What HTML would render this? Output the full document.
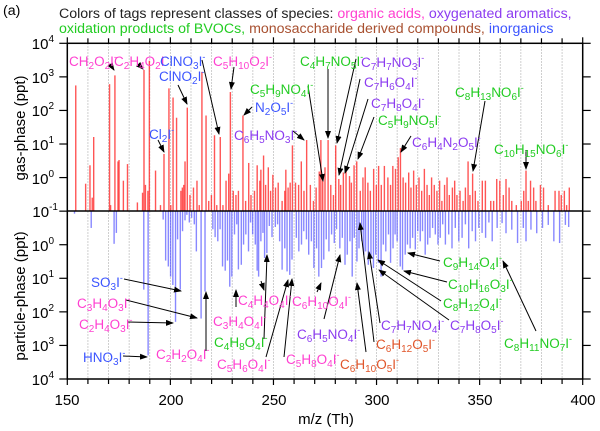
<!DOCTYPE html>
<html><head><meta charset="utf-8">
<style>
html,body{margin:0;padding:0;background:#fff}
svg{display:block;font-family:"Liberation Sans",Arial,sans-serif}
.t{font-size:13.5px}
.b{font-size:10px;baseline-shift:-3px}
.p{font-size:9px;baseline-shift:6px}
.pk{fill:#ff3fd0}.pu{fill:#8c3cf0}.gr{fill:#22cc22}.br{fill:#e0552a}.bl{fill:#3c55ff}
.tk{font-size:15px}
.ts{font-size:10px;baseline-shift:7px}
.ar{stroke:#000;stroke-width:1;marker-end:url(#ah)}
</style></head>
<body>
<svg id="chart" width="600" height="431" viewBox="0 0 600 431">
<defs><marker id="ah" markerWidth="8" markerHeight="6" refX="7" refY="3" orient="auto" markerUnits="userSpaceOnUse"><path d="M0,0 L8,3 L0,6 z" fill="#000"/></marker></defs>

<g font-size="14.2">
<text x="3" y="15">(a)</text>
<text x="59" y="18"><tspan fill="#222">Colors of tags represent classes of species: </tspan><tspan class="pk">organic acids, </tspan><tspan class="pu">oxygenated aromatics,</tspan></text>
<text x="59" y="33"><tspan class="gr">oxidation products of BVOCs, </tspan><tspan fill="#a85030">monosaccharide derived compounds, </tspan><tspan class="bl">inorganics</tspan></text>
</g>

<g id="grid"></g>
<g id="bars"></g>
<g id="axes"></g>

<text class="tk" transform="translate(25,128) rotate(-90)" text-anchor="middle">gas-phase (ppt)</text>
<text class="tk" transform="translate(25,296) rotate(-90)" text-anchor="middle">particle-phase (ppt)</text>
<text class="tk" x="326" y="424" text-anchor="middle">m/z (Th)</text>

<g>
<line class="ar" x1="110" y1="64" x2="114" y2="70"/>
<line class="ar" x1="139" y1="65" x2="143" y2="69"/>
<line class="ar" x1="202" y1="60" x2="219" y2="134"/>
<line class="ar" x1="178" y1="85" x2="187" y2="104"/>
<line class="ar" x1="234" y1="67" x2="231" y2="89"/>
<line class="ar" x1="158" y1="140" x2="164" y2="152"/>
<line class="ar" x1="252" y1="107" x2="244" y2="115"/>
<line class="ar" x1="293" y1="131" x2="304" y2="140"/>
<line class="ar" x1="308" y1="86" x2="323" y2="181"/>
<line class="ar" x1="328" y1="69" x2="328" y2="138"/>
<line class="ar" x1="356" y1="59" x2="337" y2="143"/>
<line class="ar" x1="360" y1="79" x2="339" y2="175"/>
<line class="ar" x1="368" y1="99" x2="345" y2="173"/>
<line class="ar" x1="374" y1="117" x2="358" y2="159"/>
<line class="ar" x1="411" y1="136" x2="401" y2="152"/>
<line class="ar" x1="485" y1="101" x2="473" y2="171"/>
<line class="ar" x1="526" y1="150" x2="526" y2="169"/>
<line class="ar" x1="124" y1="279" x2="181" y2="291"/>
<line class="ar" x1="126" y1="300" x2="197" y2="318"/>
<line class="ar" x1="128" y1="322" x2="173" y2="323"/>
<line class="ar" x1="123" y1="356" x2="147" y2="357"/>
<line class="ar" x1="206" y1="351" x2="206" y2="292"/>
<line class="ar" x1="236" y1="307" x2="236" y2="290"/>
<line class="ar" x1="261" y1="281" x2="264" y2="290"/>
<line class="ar" x1="264" y1="339" x2="267" y2="255"/>
<line class="ar" x1="266" y1="357" x2="288" y2="280"/>
<line class="ar" x1="284" y1="357" x2="292" y2="279"/>
<line class="ar" x1="317" y1="292" x2="321" y2="283"/>
<line class="ar" x1="324" y1="319" x2="340" y2="255"/>
<line class="ar" x1="366" y1="352" x2="357" y2="283"/>
<line class="ar" x1="374" y1="342" x2="360" y2="223"/>
<line class="ar" x1="380" y1="323" x2="369" y2="252"/>
<line class="ar" x1="449" y1="320" x2="379" y2="270"/>
<line class="ar" x1="441" y1="301" x2="378" y2="260"/>
<line class="ar" x1="447" y1="282" x2="404" y2="271"/>
<line class="ar" x1="440" y1="261" x2="408" y2="253"/>
<line class="ar" x1="536" y1="331" x2="503" y2="261"/>
</g>

<g class="t">
<text class="pk" x="69" y="66">CH<tspan class="b">2</tspan>O<tspan class="b">2</tspan>I<tspan class="p">-</tspan></text>
<text class="pk" x="114" y="66">C<tspan class="b">2</tspan>H<tspan class="b">4</tspan>O<tspan class="b">2</tspan>I<tspan class="p">-</tspan></text>
<text class="bl" x="160" y="66">ClNO<tspan class="b">3</tspan>I<tspan class="p">-</tspan></text>
<text class="bl" x="159" y="81">ClNO<tspan class="b">2</tspan>I<tspan class="p">-</tspan></text>
<text class="pk" x="213" y="66">C<tspan class="b">5</tspan>H<tspan class="b">10</tspan>O<tspan class="b">2</tspan>I<tspan class="p">-</tspan></text>
<text class="gr" x="300" y="66">C<tspan class="b">4</tspan>H<tspan class="b">7</tspan>NO<tspan class="b">5</tspan>I<tspan class="p">-</tspan></text>
<text class="pu" x="361" y="67">C<tspan class="b">7</tspan>H<tspan class="b">7</tspan>NO<tspan class="b">3</tspan>I<tspan class="p">-</tspan></text>
<text class="pu" x="364" y="87">C<tspan class="b">7</tspan>H<tspan class="b">6</tspan>O<tspan class="b">4</tspan>I<tspan class="p">-</tspan></text>
<text class="gr" x="250" y="94">C<tspan class="b">5</tspan>H<tspan class="b">9</tspan>NO<tspan class="b">4</tspan>I<tspan class="p">-</tspan></text>
<text class="pu" x="371" y="108">C<tspan class="b">7</tspan>H<tspan class="b">8</tspan>O<tspan class="b">4</tspan>I<tspan class="p">-</tspan></text>
<text class="bl" x="255" y="112">N<tspan class="b">2</tspan>O<tspan class="b">5</tspan>I<tspan class="p">-</tspan></text>
<text class="gr" x="378" y="125">C<tspan class="b">5</tspan>H<tspan class="b">9</tspan>NO<tspan class="b">5</tspan>I<tspan class="p">-</tspan></text>
<text class="bl" x="149" y="139">Cl<tspan class="b">2</tspan>I<tspan class="p">-</tspan></text>
<text class="pu" x="234" y="140">C<tspan class="b">6</tspan>H<tspan class="b">5</tspan>NO<tspan class="b">3</tspan>I<tspan class="p">-</tspan></text>
<text class="pu" x="412" y="147">C<tspan class="b">6</tspan>H<tspan class="b">4</tspan>N<tspan class="b">2</tspan>O<tspan class="b">5</tspan>I<tspan class="p">-</tspan></text>
<text class="gr" x="455" y="97">C<tspan class="b">8</tspan>H<tspan class="b">13</tspan>NO<tspan class="b">6</tspan>I<tspan class="p">-</tspan></text>
<text class="gr" x="494" y="154">C<tspan class="b">10</tspan>H<tspan class="b">15</tspan>NO<tspan class="b">6</tspan>I<tspan class="p">-</tspan></text>

<text class="bl" x="91" y="287">SO<tspan class="b">3</tspan>I<tspan class="p">-</tspan></text>
<text class="pk" x="77" y="308">C<tspan class="b">3</tspan>H<tspan class="b">4</tspan>O<tspan class="b">3</tspan>I<tspan class="p">-</tspan></text>
<text class="pk" x="79" y="329">C<tspan class="b">2</tspan>H<tspan class="b">4</tspan>O<tspan class="b">3</tspan>I<tspan class="p">-</tspan></text>
<text class="bl" x="83" y="362">HNO<tspan class="b">3</tspan>I<tspan class="p">-</tspan></text>
<text class="pk" x="156" y="359">C<tspan class="b">2</tspan>H<tspan class="b">2</tspan>O<tspan class="b">4</tspan>I<tspan class="p">-</tspan></text>
<text class="pk" x="213" y="326">C<tspan class="b">3</tspan>H<tspan class="b">4</tspan>O<tspan class="b">4</tspan>I<tspan class="p">-</tspan></text>
<text class="gr" x="214" y="347">C<tspan class="b">4</tspan>H<tspan class="b">8</tspan>O<tspan class="b">4</tspan>I<tspan class="p">-</tspan></text>
<text class="pk" x="217" y="369">C<tspan class="b">5</tspan>H<tspan class="b">6</tspan>O<tspan class="b">4</tspan>I<tspan class="p">-</tspan></text>
<text class="pk" x="238" y="305">C<tspan class="b">4</tspan>H<tspan class="b">4</tspan>O<tspan class="b">4</tspan>I<tspan class="p">-</tspan></text>
<text class="pk" x="292" y="306">C<tspan class="b">6</tspan>H<tspan class="b">10</tspan>O<tspan class="b">4</tspan>I<tspan class="p">-</tspan></text>
<text class="pu" x="297" y="339">C<tspan class="b">6</tspan>H<tspan class="b">5</tspan>NO<tspan class="b">4</tspan>I<tspan class="p">-</tspan></text>
<text class="pk" x="286" y="364">C<tspan class="b">5</tspan>H<tspan class="b">8</tspan>O<tspan class="b">4</tspan>I<tspan class="p">-</tspan></text>
<text class="br" x="340" y="369">C<tspan class="b">6</tspan>H<tspan class="b">10</tspan>O<tspan class="b">5</tspan>I<tspan class="p">-</tspan></text>
<text class="br" x="376" y="349">C<tspan class="b">6</tspan>H<tspan class="b">12</tspan>O<tspan class="b">5</tspan>I<tspan class="p">-</tspan></text>
<text class="pu" x="381" y="330">C<tspan class="b">7</tspan>H<tspan class="b">7</tspan>NO<tspan class="b">4</tspan>I<tspan class="p">-</tspan></text>
<text class="pu" x="450" y="330">C<tspan class="b">7</tspan>H<tspan class="b">8</tspan>O<tspan class="b">5</tspan>I<tspan class="p">-</tspan></text>
<text class="gr" x="443" y="267">C<tspan class="b">9</tspan>H<tspan class="b">14</tspan>O<tspan class="b">4</tspan>I<tspan class="p">-</tspan></text>
<text class="gr" x="448" y="289">C<tspan class="b">10</tspan>H<tspan class="b">16</tspan>O<tspan class="b">3</tspan>I<tspan class="p">-</tspan></text>
<text class="gr" x="443" y="308">C<tspan class="b">8</tspan>H<tspan class="b">12</tspan>O<tspan class="b">4</tspan>I<tspan class="p">-</tspan></text>
<text class="gr" x="504" y="348">C<tspan class="b">8</tspan>H<tspan class="b">11</tspan>NO<tspan class="b">7</tspan>I<tspan class="p">-</tspan></text>
</g>

<g class="tk" text-anchor="end">
<text x="54" y="49">10<tspan class="ts">4</tspan></text>
<text x="54" y="83">10<tspan class="ts">3</tspan></text>
<text x="54" y="116">10<tspan class="ts">2</tspan></text>
<text x="54" y="150">10<tspan class="ts">1</tspan></text>
<text x="54" y="184">10<tspan class="ts">0</tspan></text>
<text x="58" y="217">10<tspan class="ts">-1</tspan></text>
<text x="54" y="251">10<tspan class="ts">0</tspan></text>
<text x="54" y="284">10<tspan class="ts">1</tspan></text>
<text x="54" y="318">10<tspan class="ts">2</tspan></text>
<text x="54" y="351">10<tspan class="ts">3</tspan></text>
<text x="54" y="385">10<tspan class="ts">4</tspan></text>
</g>
<g class="tk" text-anchor="middle">
<text x="67" y="405">150</text>
<text x="171" y="405">200</text>
<text x="274" y="405">250</text>
<text x="377" y="405">300</text>
<text x="480" y="405">350</text>
<text x="583" y="405">400</text>
</g>
</svg>
<script>
const xTicks = [150, 200, 250, 300, 350, 400];
const gasMz = [154.1,158.9,161,162.1,162.8,170.5,171,173.1,174.6,175.1,177.2,179.2,184,186.5,187.2,187.9,189.1,189.8,192.8,195.2,196.9,199.3,200.2,201.3,203,205.1,205.8,206.5,207.1,208.2,209.5,211.2,212.9,214,215.3,217.3,218.6,219.9,221.4,222.5,224.2,225.5,227,228.3,229.1,230.5,231.8,233,235.2,236.5,238,239.1,240.8,242.1,243.4,243.9,245.2,246.2,247.5,248.6,249.7,251,252.3,254.2,255.5,256,257.1,258.1,259.2,260.7,262.2,263.5,264.8,266.1,267.9,269.4,270.7,272.2,273,273.9,275,276.5,277.8,279.1,280.2,281.7,282.6,283.9,285.2,286.9,287.8,289.1,290.4,292.1,293.4,294.5,295.8,297,298.6,299.9,301,302.3,303.8,305.5,306.8,307.9,309.2,310.5,311.6,312.9,314.1,315.6,316.7,318,319.3,320.6,321.9,323.2,324.5,325.6,326.7,328,329.3,330.6,331.7,333,334.2,335.3,336.8,337.9,339,340.5,342,343.1,344.4,345.3,346.6,347.9,349.2,351.3,352.8,355.4,356.8,358.3,359.8,361.5,362.8,364.3,365.6,367.8,370.2,371.4,372.5,373.6,374.7,376.2,377.3,379.5,381,383.3,386.6,388.5,389.6,391.1,392.2,393.5];
const gasVal = [550,0.65,2.3,0.25,16,600,0.15,1100,3,3.3,0.8,2.5,0.18,0.35,1600,0.6,0.4,3000,1.6,0.15,5,450,0.15,240,60,0.4,0.5,0.6,3,120,0.3,0.5,0.8,0.15,1400,70,0.2,0.3,18,0.15,16,0.15,0.8,1.3,350,0.4,0.3,0.4,70,0.2,2.7,0.3,0.4,2.3,0.8,1.7,4.5,0.6,2,0.4,1.2,0.5,0.7,0.2,0.4,1.7,0.5,0.7,9,0.7,0.6,3,0.4,13,0.6,0.2,0.5,1.5,13,0.8,2,13,0.6,0.3,9,0.9,0.6,1.4,2,1.1,0.7,2.3,3,0.4,1,2,0.7,0.4,1.8,0.6,2.2,0.6,2.2,1,0.6,2.2,1.8,4,7.5,1,0.7,1.4,0.5,1.6,0.6,1,0.4,1.8,0.6,0.3,1,0.6,0.4,0.8,0.2,0.6,1,0.3,0.5,0.8,0.3,0.4,0.2,0.5,3,0.3,1.3,0.4,0.2,0.8,0.8,0.2,0.2,0.9,0.8,0.3,0.9,0.5,0.2,0.15,0.2,0.4,1.6,0.2,0.8,0.5,0.2,0.6,0.5,0.15,0.4,0.4,0.3,0.4,0.15,0.5];
const partMz = [153.5,161.6,172.7,173.8,187.1,189.2,196.5,197.7,199,200.1,201.2,202.5,203.5,204.8,205.9,207.1,208,209.2,210.3,211.6,212.6,214.9,216.8,220.6,221.7,223,224.1,225.3,226.6,227.7,228.8,229.8,231.1,232.2,233,234.4,235.5,236.6,237.9,238.9,239.9,241.2,242.1,242.8,243.9,244.9,245.7,246.8,248,249.3,250.9,252,253,254.2,255.5,256.6,257.9,259,261.1,262.3,263.6,264.7,266,267.1,268.4,269.6,270.9,272,273.3,274.4,275.6,276.9,278.2,279.5,280.6,282.2,283.4,284.7,285.8,287.1,288.2,289.2,290.5,291.5,292.8,293.8,294.7,296,297.3,298.5,299.6,300.9,302.2,303.3,304.5,305.8,306.8,308,309,310,311.5,312.6,313.9,315,316.3,317.5,318.8,320,321.2,322.3,323.6,324.8,325.9,327.2,328.5,329.8,330.9,332.1,333.4,335,336.6,338.2,339.9,341.5,343.1,344.7,346.4,348,349.6,351.2,352.9,354.5,356.1,358.5,360.9,362.8,365.6,368.4,371.2,372.5,374.9,377.7,380.5,383.3,386,388.8,391.6,393.2];
const partVal = [0.12,0.32,0.95,0.45,22,2000,0.18,3,4.5,9,16,200,0.7,22,0.4,0.19,0.13,0.22,0.16,0.25,1.6,160,25,0.35,0.6,0.8,0.35,4.5,6,3,18,9,0.5,0.25,5.5,4,1,0.5,1.6,0.22,0.5,1,6,9,0.8,0.45,2.5,1.8,0.28,0.6,0.3,0.25,0.8,5.6,1.3,6.3,8,2.8,0.63,1.6,1,0.4,0.7,2,0.8,5,1.3,9,5,2.8,0.7,1.6,0.5,0.9,0.35,1.3,0.63,4,2,0.8,9,0.63,3.2,1.3,0.8,2,1.6,4,2.5,5,2,3.5,9,1,1.6,0.5,3.5,1.3,0.5,0.8,4.5,5.6,2,1,1.3,0.63,1.4,0.4,0.8,0.4,2,1,0.63,0.32,0.5,1,0.63,0.25,1,0.5,1.3,0.32,0.8,0.63,0.25,1.3,0.4,0.8,0.32,0.45,0.63,0.22,0.8,0.32,0.23,0.46,0.36,0.9,0.32,0.8,0.36,0.46,0.32,0.26,0.8,0.9,0.26,0.3];

const NS = 'http://www.w3.org/2000/svg';
const X0 = 67.3, X1 = 582.7, YT = 43.3, YB = 379, YM = 211, DEC = 33.57;
function xS(m){ return X0 + (m - 150) * (X1 - X0) / 250; }
function yGas(v){ return YM - (Math.log10(v) + 1) * DEC; }
function yPart(v){ return YM + (Math.log10(v) + 1) * DEC; }
function mk(tag, attrs, parent){ const e = document.createElementNS(NS, tag); for (const k in attrs) e.setAttribute(k, attrs[k]); parent.appendChild(e); return e; }

const grid = document.getElementById('grid');
for (let m = 160; m < 400; m += 10) {
  const l = mk('line', {x1: xS(m), x2: xS(m), y1: YT, y2: YB, stroke: '#b0b0b0', 'stroke-width': 0.8, 'stroke-dasharray': '1.5,1.5'}, grid);
  
  
}
const bars = document.getElementById('bars');
gasMz.forEach((m, i) => {
  const l = mk('line', {x1: xS(m), x2: xS(m), y1: YM, y2: yGas(gasVal[i]), stroke: '#ff2a2a', 'stroke-opacity': 0.8, 'stroke-width': 1.4}, bars);
  
  
});
partMz.forEach((m, i) => {
  const l = mk('line', {x1: xS(m), x2: xS(m), y1: YM, y2: yPart(partVal[i]), stroke: '#5555ff', 'stroke-opacity': 0.7, 'stroke-width': 1.4}, bars);
  
  
});
const ax = document.getElementById('axes');
mk('rect', {x: X0, y: YT, width: X1 - X0, height: YB - YT, fill: 'none', stroke: '#000', 'stroke-width': 1.5}, ax);
mk('line', {x1: X0, x2: X1, y1: YM, y2: YM, stroke: '#000', 'stroke-width': 1.5}, ax);
for (let m = 150; m <= 400; m += 10) {
  const len = (m % 50 === 0) ? 6 : 5;
  mk('line', {x1: xS(m), x2: xS(m), y1: YB, y2: YB + len, stroke: '#000', 'stroke-width': 1.2}, ax);
  mk('line', {x1: xS(m), x2: xS(m), y1: YT, y2: YT - len, stroke: '#000', 'stroke-width': 1.2}, ax);
}
for (let k = 0; k <= 10; k++) {
  const y = YT + k * DEC;
  mk('line', {x1: X0 - 8, x2: X0, y1: y, y2: y, stroke: '#000', 'stroke-width': 1.2}, ax);
  mk('line', {x1: X1, x2: X1 + 8, y1: y, y2: y, stroke: '#000', 'stroke-width': 1.2}, ax);
}
</script>
</body></html>
